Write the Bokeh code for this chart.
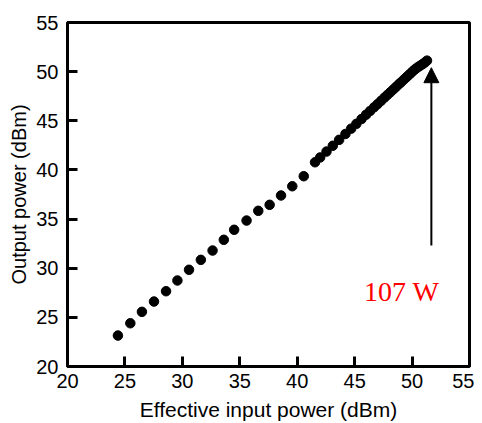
from bokeh.plotting import figure
from bokeh.models import Range1d, FixedTicker, Arrow, NormalHead, Label, ColumnDataSource
from bokeh.embed import file_html
from bokeh.resources import INLINE

# Effective input power (dBm) and output power (dBm)
input_dbm = [24.39, 25.47, 26.48, 27.53, 28.58, 29.57, 30.58, 31.61, 32.63, 33.61,
             34.51, 35.59, 36.61, 37.60, 38.59, 39.57, 40.57,
             41.55, 42.0, 42.55, 43.1, 43.65, 44.2, 44.7, 45.15, 45.6, 46.0,
             46.35, 46.7, 47.0, 47.3, 47.6, 47.85, 48.1, 48.35, 48.6, 48.85,
             49.05, 49.3, 49.5, 49.7, 49.9, 50.1, 50.3, 50.5, 50.7, 50.9, 51.1, 51.3]
output_dbm = [23.15, 24.40, 25.56, 26.61, 27.66, 28.75, 29.84, 30.85, 31.80, 32.89,
              33.91, 34.85, 35.84, 36.45, 37.40, 38.34, 39.36,
              40.78, 41.27, 41.87, 42.46, 43.06, 43.66, 44.20, 44.69, 45.18, 45.62,
              46.0, 46.38, 46.70, 47.03, 47.36, 47.63, 47.90, 48.17, 48.44, 48.72,
              48.93, 49.21, 49.42, 49.64, 49.86, 50.08, 50.28, 50.45, 50.6, 50.75, 50.92, 51.12]

x_ticks = [20, 25, 30, 35, 40, 45, 50, 55]
y_ticks = [20, 25, 30, 35, 40, 45, 50, 55]
annotation_text = "107 W"

p = figure(frame_width=402, frame_height=344, output_backend="svg", toolbar_location=None,
           x_range=Range1d(20, 55), y_range=Range1d(20, 55),
           min_border_left=67, min_border_right=5, min_border_top=22, min_border_bottom=50)
p.grid.visible = False
p.background_fill_color = "white"
p.border_fill_color = "white"
p.outline_line_color = "black"
p.outline_line_width = 3

for ax in (p.xaxis[0], p.yaxis[0]):
    ax.axis_line_color = None
    ax.major_tick_in = 10
    ax.major_tick_out = 0
    ax.major_tick_line_width = 3
    ax.major_tick_line_color = "black"
    ax.minor_tick_line_color = None
    ax.major_label_text_font = "Liberation Sans"
    ax.major_label_text_font_size = "20px"
    ax.major_label_text_color = "black"
    ax.axis_label_text_font = "Liberation Sans"
    ax.axis_label_text_font_size = "20px"
    ax.axis_label_text_font_style = "normal"
    ax.axis_label_text_color = "black"

p.xaxis.axis_label_text_font_size = "21px"
p.xaxis.ticker = FixedTicker(ticks=x_ticks)
p.yaxis.ticker = FixedTicker(ticks=y_ticks)
p.xaxis.axis_label = "Effective input power (dBm)"
p.yaxis.axis_label = "Output power (dBm)"
p.xaxis.major_label_standoff = 7
p.yaxis.major_label_standoff = 9
p.xaxis.axis_label_standoff = 7
p.yaxis.axis_label_standoff = 3

src = ColumnDataSource(dict(x=input_dbm, y=output_dbm))
p.scatter("x", "y", source=src, size=9.5, color="black")

p.add_layout(Arrow(end=NormalHead(size=15, fill_color="black", line_color="black"),
                   x_start=51.68, y_start=32.3, x_end=51.68, y_end=50.4,
                   line_color="black", line_width=2))
p.add_layout(Label(x=49.1, y=27.6, text=annotation_text, text_color="red",
                   text_font="Liberation Serif", text_font_size="28px",
                   text_align="center", text_baseline="alphabetic"))

open("out.html", "w").write(file_html(p, INLINE))
